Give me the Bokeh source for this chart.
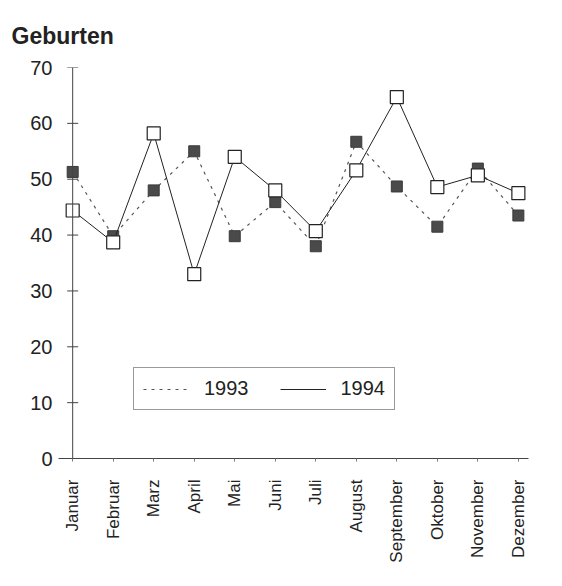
import numpy as np
from bokeh.plotting import figure
from bokeh.models import Legend, LegendItem, FixedTicker, Range1d, Span
from bokeh.embed import file_html
from bokeh.resources import INLINE

months = ["Januar", "Februar", "Marz", "April", "Mai", "Juni", "Juli",
          "August", "September", "Oktober", "November", "Dezember"]
births_1993 = [51.3, 39.8, 48.0, 55.0, 39.8, 45.9, 38.0, 56.7, 48.7, 41.5, 51.9, 43.5]
births_1994 = [44.4, 38.7, 58.2, 33.0, 54.0, 48.0, 40.7, 51.6, 64.7, 48.6, 50.7, 47.5]
y_ticks = [0, 10, 20, 30, 40, 50, 60, 70]

x = list(range(len(months)))
FONT = "Liberation Sans"
INK = "#222222"
AXIS = "#444444"

p = figure(width=546, height=578, output_backend="svg", toolbar_location=None,
           x_range=Range1d(-0.35, 11.25), y_range=Range1d(0, 70),
           frame_width=470, frame_height=391,
           min_border_left=58, min_border_top=67, min_border_right=10,
           title="Geburten")
p.outline_line_color = None
p.xgrid.grid_line_color = None
p.ygrid.grid_line_color = None

p.title.text_font = FONT
p.title.text_font_size = "23px"
p.title.text_font_style = "bold"
p.title.text_color = INK
p.title.align = "left"
p.title.offset = -47
p.title.standoff = 38

# labels-only y axis at the frame edge
ya = p.yaxis[0]
ya.ticker = FixedTicker(ticks=y_ticks)
ya.axis_line_color = None
ya.major_tick_line_color = None
ya.minor_tick_line_color = None
ya.major_tick_in = 0
ya.major_tick_out = 0
ya.major_label_standoff = 6
ya.major_label_text_font = FONT
ya.major_label_text_font_size = "20px"
ya.major_label_text_color = INK

# axis line with crossing ticks at x = 0 (Januar)
p.add_layout(Span(location=0, dimension="height", line_color=AXIS, line_width=1))
p.scatter([0] * len(y_ticks), y_ticks, marker="dash", size=11,
          line_color=AXIS, line_width=1)

xa = p.xaxis[0]
xa.ticker = FixedTicker(ticks=x)
xa.major_label_overrides = {i: m for i, m in zip(x, months)}
xa.major_label_orientation = np.pi / 2
xa.major_tick_in = 0
xa.major_tick_out = 3
xa.minor_tick_line_color = None
xa.major_label_standoff = 18
xa.major_label_text_font = FONT
xa.major_label_text_font_size = "17px"
xa.major_label_text_color = INK
xa.axis_line_color = AXIS
xa.major_tick_line_color = "#777777"

l93 = p.line(x, births_1993, line_color="#555555", line_width=1.2, line_dash="3 5")
p.scatter(x, births_1993, marker="square", size=11, fill_color="#4a4a4a",
          line_color="#3a3a3a")
l94 = p.line(x, births_1994, line_color=INK, line_width=1)
p.scatter(x, births_1994, marker="square", size=13, fill_color="white",
          line_color=INK, line_width=1.2)

legend = Legend(items=[LegendItem(label="1993", renderers=[l93]),
                       LegendItem(label="1994", renderers=[l94])],
                orientation="horizontal", location=(75, 48),
                margin=0, padding=9, spacing=31, glyph_width=46,
                label_standoff=15, border_line_color="#333333",
                border_line_width=1, label_text_font=FONT,
                label_text_font_size="20px", label_text_color=INK,
                background_fill_alpha=1)
p.add_layout(legend, "center")

open("out.html", "w").write(file_html(p, INLINE))
